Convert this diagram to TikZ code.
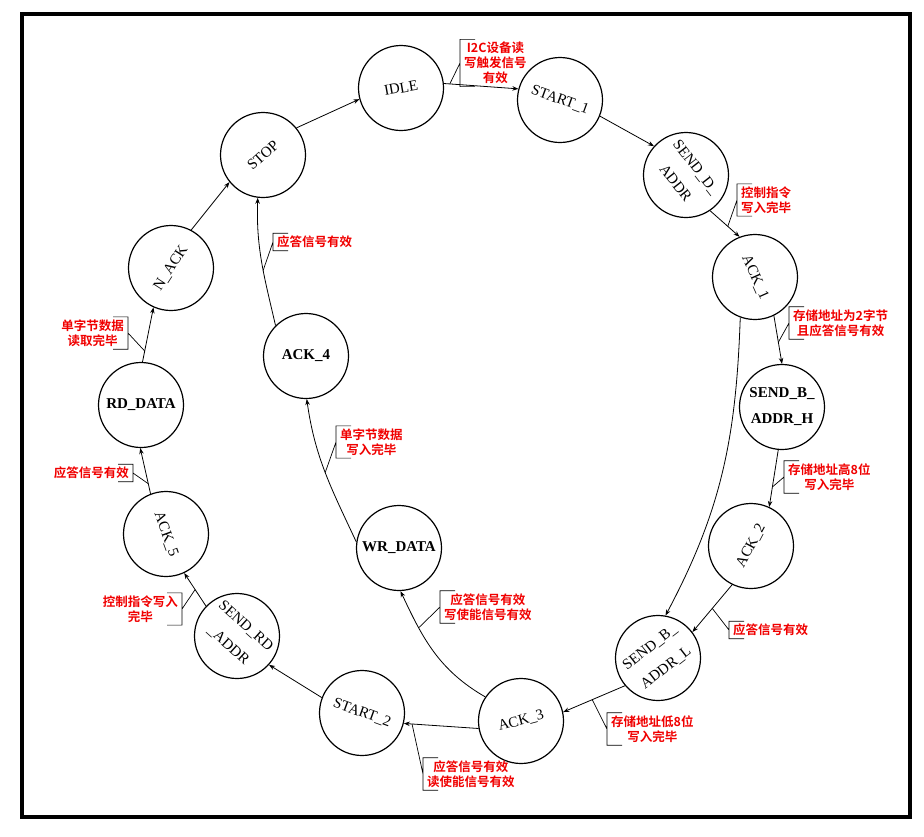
\documentclass[tikz,border=0pt]{standalone}
\usepackage{fontspec}
\setmainfont{Liberation Serif}
\newfontfamily\cjk{Noto Sans CJK SC}[BoldFont={Noto Sans CJK SC Bold}]
\usetikzlibrary{arrows.meta}
\definecolor{rojo}{RGB}{240,0,0}
\tikzset{
  estado/.style={circle,draw,line width=1.2pt,minimum size=85pt,inner sep=0pt,
                 font=\fontsize{15}{26}\selectfont,align=center},
  rotulo/.style={font=\fontsize{15}{26}\selectfont,align=center,inner sep=0pt},
  trans/.style={-{Stealth[length=6pt,width=4.5pt]},line width=0.8pt},
  nota/.style={text=rojo,font=\cjk\bfseries\fontsize{12.5}{15}\selectfont,
               align=center,inner xsep=4pt,inner ysep=2.5pt},
  corchete/.style={line width=0.7pt},
}

\begin{document}
\begin{tikzpicture}[x=1pt,y=1pt]
  \useasboundingbox (0,0) rectangle (924,-836);
  \draw[line width=3.5pt] (22,-14) rectangle (910,-817);
  % estados
  \node[estado,label={[rotulo,rotate=10]center:IDLE}]                (idle)       at (401,-88)  {};
  \node[estado,label={[rotulo,rotate=-20]center:START\_1}]           (start1)     at (560,-100) {};
  \node[estado,label={[rotulo,rotate=-52]center:SEND\_D\_\\ADDR}]    (senddaddr)  at (686,-175) {};
  \node[estado,label={[rotulo,rotate=-66]center:ACK\_1}]             (ack1)       at (755,-277) {};
  \node[estado,font=\fontsize{15}{26}\selectfont\bfseries]           (sendbaddrh) at (782,-407) {SEND\_B\_\\ADDR\_H};
  \node[estado,label={[rotulo,rotate=62]center:ACK\_2}]              (ack2)       at (751,-546) {};
  \node[estado,label={[rotulo,rotate=38]center:SEND\_B\_\\ADDR\_L}]  (sendbaddrl) at (658,-658) {};
  \node[estado,label={[rotulo,rotate=15]center:ACK\_3}]              (ack3)       at (521,-721) {};
  \node[estado,label={[rotulo,rotate=-20]center:START\_2}]           (start2)     at (362,-713) {};
  \node[estado,label={[rotulo,rotate=-42]center:SEND\_RD\\\_ADDR}]   (sendrdaddr) at (237,-636) {};
  \node[estado,label={[rotulo,rotate=-70]center:ACK\_5}]             (ack5)       at (166,-534) {};
  \node[estado,font=\fontsize{15}{26}\selectfont\bfseries]           (rddata)     at (141,-405) {RD\_DATA};
  \node[estado,label={[rotulo,rotate=57]center:N\_ACK}]              (nack)       at (171,-268) {};
  \node[estado,label={[rotulo,rotate=42]center:STOP}]                (stop)       at (263,-155) {};
  \node[estado,font=\fontsize{15}{26}\selectfont\bfseries]           (ack4)       at (306,-356) {ACK\_4};
  \node[estado,font=\fontsize{15}{26}\selectfont\bfseries]           (wrdata)     at (399,-548) {WR\_DATA};
  % transiciones
  \draw[trans] (idle.6) -- coordinate[pos=0.08] (e1) (start1.165);
  \draw[trans] (start1.-22) -- (senddaddr.138);
  \draw[trans] (senddaddr.-56) -- coordinate[pos=0.6] (e2) (ack1.111);
  \draw[trans] (ack1.-64) -- coordinate[pos=0.55] (e3) (sendbaddrh.90);
  \draw[trans] (ack1.-110) to[out=-92,in=62] (sendbaddrl.80);
  \draw[trans] (sendbaddrh.-95) -- coordinate[pos=0.65] (e4) (ack2.65);
  \draw[trans] (ack2.-116) -- coordinate[pos=0.5] (e5) (sendbaddrl.37);
  \draw[trans] (sendbaddrl.-140) -- coordinate[pos=0.53] (e6) (ack3.12);
  \draw[trans] (ack3.146) to[out=150,in=-65] coordinate[pos=0.72] (e7) (wrdata.-88);
  \draw[trans] (ack3.190) -- coordinate[pos=0.89] (e8) (start2.-14);
  \draw[trans] (start2.159) -- (sendrdaddr.-42);
  \draw[trans] (sendrdaddr.136) -- coordinate[pos=0.5] (e9) (ack5.-65);
  \draw[trans] (ack5.111) -- coordinate[pos=0.22] (e10) (rddata.-91);
  \draw[trans] (rddata.88) -- coordinate[pos=0.2] (e11) (nack.-114);
  \draw[trans] (nack.62) -- (stop.-141);
  \draw[trans] (stop.39) -- (idle.195);
  \draw[trans] (ack4.135) to[out=103,in=-92] coordinate[pos=0.43] (e12) (stop.-97);
  \draw[trans] (wrdata.172) to[out=115,in=-82] coordinate[pos=0.5] (e13) (ack4.-89);
  % condiciones
  \node[nota,anchor=west] (n1)  at (460,-63)  {I2C设备读\\写触发信号\\有效};
  \node[nota,anchor=west] (n2)  at (737,-200) {控制指令\\写入完毕};
  \node[nota,anchor=west] (n3)  at (789,-323) {存储地址为2字节\\且应答信号有效};
  \node[nota,anchor=west] (n4)  at (784,-477) {存储地址高8位\\写入完毕};
  \node[nota,anchor=west] (n5)  at (729,-630) {应答信号有效};
  \node[nota,anchor=west] (n6)  at (607,-729) {存储地址低8位\\写入完毕};
  \node[nota,anchor=west] (n7)  at (440,-607) {应答信号有效\\写使能信号有效};
  \node[nota,anchor=west] (n8)  at (423,-774) {应答信号有效\\读使能信号有效};
  \node[nota,anchor=east] (n9)  at (182,-609) {控制指令写入\\完毕};
  \node[nota,anchor=east] (n10) at (133,-473) {应答信号有效};
  \node[nota,anchor=east] (n11) at (128,-333) {单字节数据\\读取完毕};
  \node[nota,anchor=west] (n12) at (273,-242) {应答信号有效};
  \node[nota,anchor=west] (n13) at (336,-442) {单字节数据\\写入完毕};
  \foreach \n/\e in {n1/e1,n2/e2,n3/e3,n4/e4,n5/e5,n6/e6,n7/e7,n8/e8,n12/e12,n13/e13}
    \draw[corchete] ([xshift=15pt]\n.north west) -- (\n.north west) -- (\n.south west)
      -- ([xshift=15pt]\n.south west) (\n.west) -- (\e);
  \foreach \n/\e in {n9/e9,n10/e10,n11/e11}
    \draw[corchete] ([xshift=-15pt]\n.north east) -- (\n.north east) -- (\n.south east)
      -- ([xshift=-15pt]\n.south east) (\n.east) -- (\e);
\end{tikzpicture}
\end{document}
